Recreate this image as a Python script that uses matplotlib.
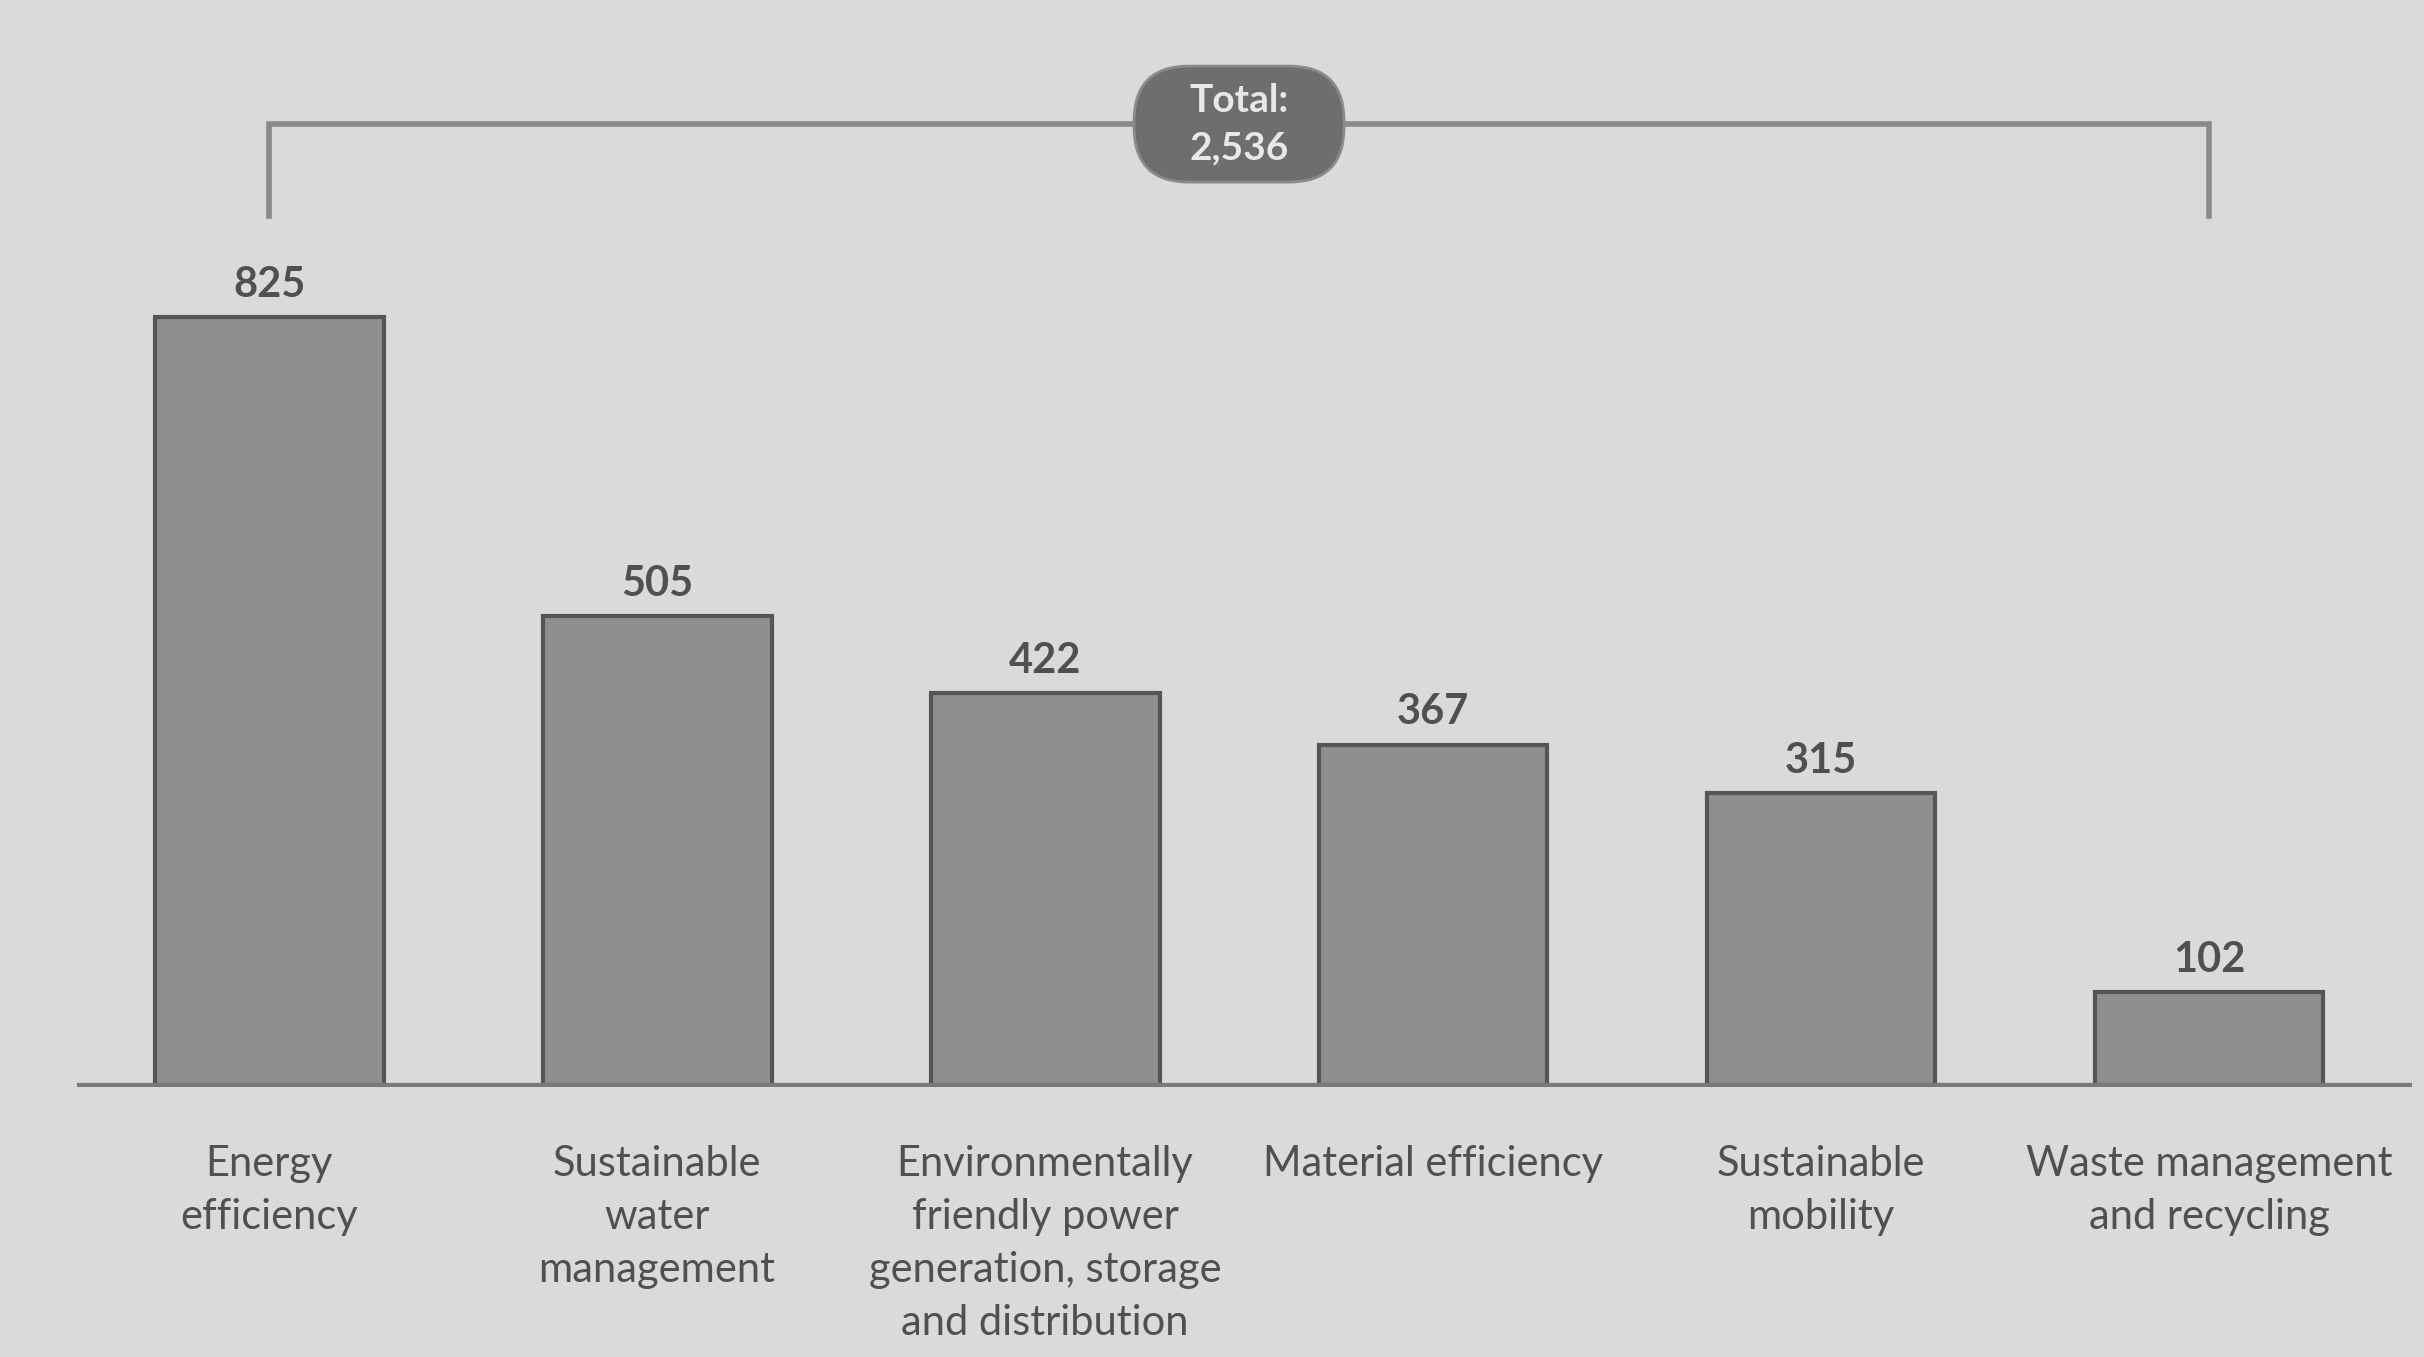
import matplotlib.pyplot as plt
from matplotlib.patches import FancyBboxPatch
from matplotlib.transforms import IdentityTransform

plt.rcParams['font.family'] = ['Lato', 'DejaVu Sans']

categories = ['Energy\nefficiency', 'Sustainable\nwater\nmanagement',
              'Environmentally\nfriendly power\ngeneration, storage\nand distribution',
              'Material efficiency', 'Sustainable\nmobility',
              'Waste management\nand recycling']
values = [825, 505, 422, 367, 315, 102]
total_label = 'Total:\n2,536'

bg = '#dadada'
bar_col = '#8e8e8e'
edge_col = '#555555'
text_col = '#505050'

fig = plt.figure(figsize=(24.24, 13.57), dpi=100, facecolor=bg)
ax = fig.add_axes([0.0318, 0.199, 0.9632, 0.801])
ax.set_facecolor(bg)

x = list(range(len(values)))
ax.bar(x, values, width=0.59, color=bar_col, edgecolor=edge_col, linewidth=3, zorder=2)
ax.axhline(0, color='#7a7a7a', linewidth=6, zorder=3)

for xi, v in zip(x, values):
    ax.text(xi, v + 14, str(v), ha='center', va='bottom', fontsize=30,
            fontweight='bold', color=text_col)

ax.set_xlim(-0.495, 5.523)
ax.set_ylim(0, 1165)

# bracket spanning all bars with total badge
yb, yt = 933, 1032
ax.plot([x[0], x[0], x[-1], x[-1]], [yb, yt, yt, yb], color='#8a8a8a', linewidth=4,
        solid_joinstyle='miter', zorder=2)
cx, cy = (x[0] + x[-1]) / 2, yt
px, py = ax.transData.transform((cx, cy))
bw, bh = 210, 116
badge = FancyBboxPatch((px - bw / 2, py - bh / 2), bw, bh,
                       boxstyle='round,pad=0,rounding_size=55',
                       facecolor='#6e6e6e', edgecolor='#8a8a8a', linewidth=2,
                       transform=IdentityTransform(), zorder=4, clip_on=False)
ax.add_artist(badge)
ax.text(cx, cy, total_label, ha='center', va='center', fontsize=28,
        fontweight='bold', color='#e8e8e8', linespacing=1.45, zorder=5)

ax.set_xticks(x)
ax.set_xticklabels(categories, fontsize=30, color=text_col, linespacing=1.48)
ax.tick_params(axis='x', length=0, pad=42)
ax.set_yticks([])
for s in ax.spines.values():
    s.set_visible(False)

fig.savefig('out.png', dpi=100, facecolor=bg)
